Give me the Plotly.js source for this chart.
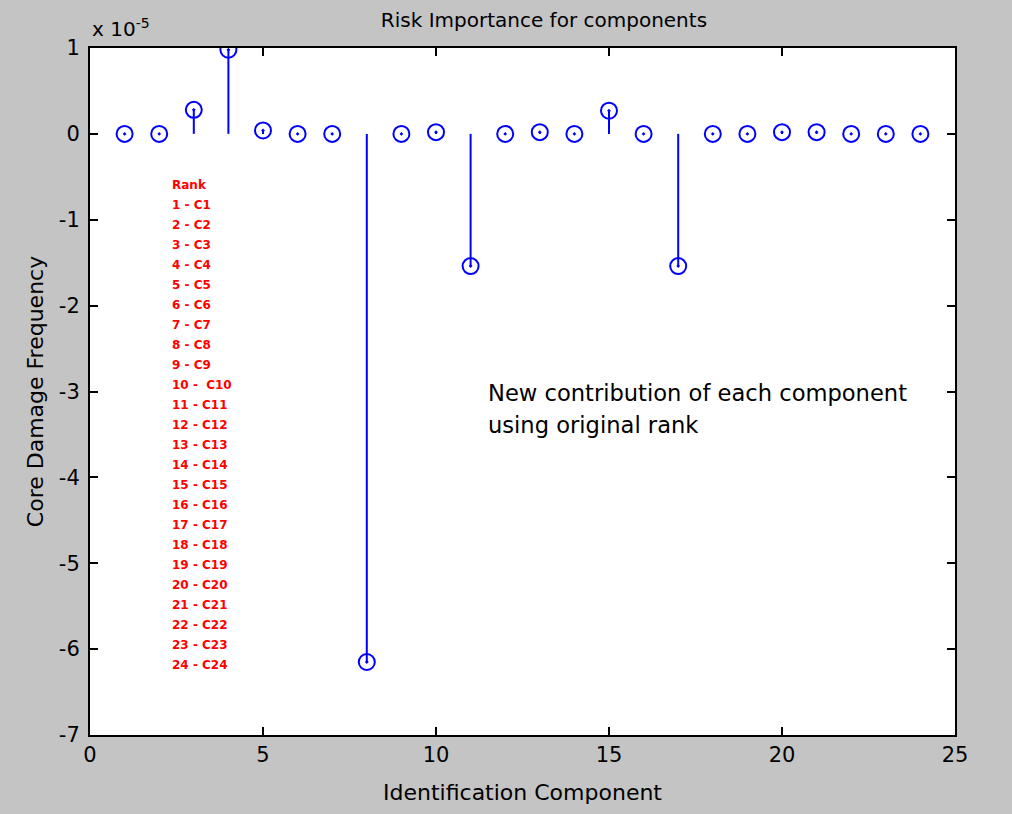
<!DOCTYPE html>
<html>
<head>
<meta charset="utf-8">
<script src="https://cdn.plot.ly/plotly-3.0.1.min.js"></script>
<style>
  html, body { margin: 0; padding: 0; background: #c4c4c4; }
  #chart { width: 1012px; height: 814px; }
</style>
</head>
<body>
<div id="chart"></div>
<script>
// Component identifiers and their new contribution to core damage frequency (units of 1e-5)
const components = [1,2,3,4,5,6,7,8,9,10,11,12,13,14,15,16,17,18,19,20,21,22,23,24];
const contribution = [0, 0, 0.28, 0.98, 0.04, 0, 0, -6.15, 0, 0.02, -1.54, 0, 0.02, 0, 0.27, 0, -1.54, 0, 0, 0.02, 0.02, 0, 0, 0];
const rankLabels = ['Rank','1 - C1','2 - C2','3 - C3','4 - C4','5 - C5','6 - C6','7 - C7','8 - C8','9 - C9',
  '10 -  C10','11 - C11','12 - C12','13 - C13','14 - C14','15 - C15','16 - C16','17 - C17','18 - C18',
  '19 - C19','20 - C20','21 - C21','22 - C22','23 - C23','24 - C24'];
const xTicks = [0,5,10,15,20,25];
const yTicks = [-7,-6,-5,-4,-3,-2,-1,0,1];

const BLUE = '#0000ff';
const FONT = 'DejaVu Sans, Verdana, sans-serif';

// stem segments from the baseline to each value
const stemX = [], stemY = [];
components.forEach((c, i) => {
  if (contribution[i] !== 0) { stemX.push(c, c, null); stemY.push(0, contribution[i], null); }
});

const stems = {
  x: stemX, y: stemY, type: 'scatter', mode: 'lines',
  line: {color: BLUE, width: 2}, hoverinfo: 'skip', showlegend: false
};
const heads = {
  x: components, y: contribution, type: 'scatter', mode: 'markers',
  marker: {symbol: 'circle-open-dot', size: 16, color: BLUE, line: {color: BLUE, width: 2}},
  showlegend: false
};

// ranking list, one line per entry, stacked down the left of the axes
const annotations = rankLabels.map((t, i) => ({
  text: t, xref: 'x', yref: 'y', x: 2.3, y: -0.595 - i * 0.2328,
  xanchor: 'left', yanchor: 'middle', showarrow: false,
  font: {family: FONT, size: 12, color: '#ff0000', weight: 'bold'}
}));

annotations.push(
  {text: 'New contribution of each component', xref: 'x', yref: 'y', x: 11.45, y: -3.015,
   xanchor: 'left', yanchor: 'middle', showarrow: false, font: {family: FONT, size: 22.6, color: '#000'}},
  {text: 'using original rank', xref: 'x', yref: 'y', x: 11.45, y: -3.385,
   xanchor: 'left', yanchor: 'middle', showarrow: false, font: {family: FONT, size: 22.6, color: '#000'}},
  {text: 'x 10<sup>-5</sup>', xref: 'paper', yref: 'paper', x: 0, y: 1, yshift: 20,
   xanchor: 'left', yanchor: 'middle', showarrow: false, font: {family: FONT, size: 20, color: '#000'}}
);

const axisCommon = {
  showgrid: false, zeroline: false, showline: true, mirror: 'ticks',
  linecolor: '#000', linewidth: 2, ticks: 'inside', ticklen: 8, tickwidth: 2, tickcolor: '#000',
  tickfont: {family: FONT, size: 21, color: '#000'}
};

const layout = {
  width: 1012, height: 814,
  paper_bgcolor: '#c4c4c4', plot_bgcolor: '#ffffff',
  margin: {l: 90, r: 57, t: 48, b: 79},
  title: {text: 'Risk Importance for components', x: 0.5375, xanchor: 'center', y: 0.975, yanchor: 'middle',
          font: {family: FONT, size: 20, color: '#000'}},
  xaxis: Object.assign({}, axisCommon, {
    range: [0, 25], tickvals: xTicks, ticktext: xTicks.map(String),
    title: {text: 'Identification Component', standoff: 18, font: {family: FONT, size: 22, color: '#000'}}
  }),
  yaxis: Object.assign({}, axisCommon, {
    range: [-7, 1], tickvals: yTicks, ticktext: yTicks.map(String), ticklabelstandoff: 4,
    title: {text: 'Core Damage Frequency', standoff: 9, font: {family: FONT, size: 22, color: '#000'}}
  }),
  annotations: annotations,
  showlegend: false
};

Plotly.newPlot('chart', [stems, heads], layout, {displayModeBar: false, staticPlot: true});
</script>
</body>
</html>
